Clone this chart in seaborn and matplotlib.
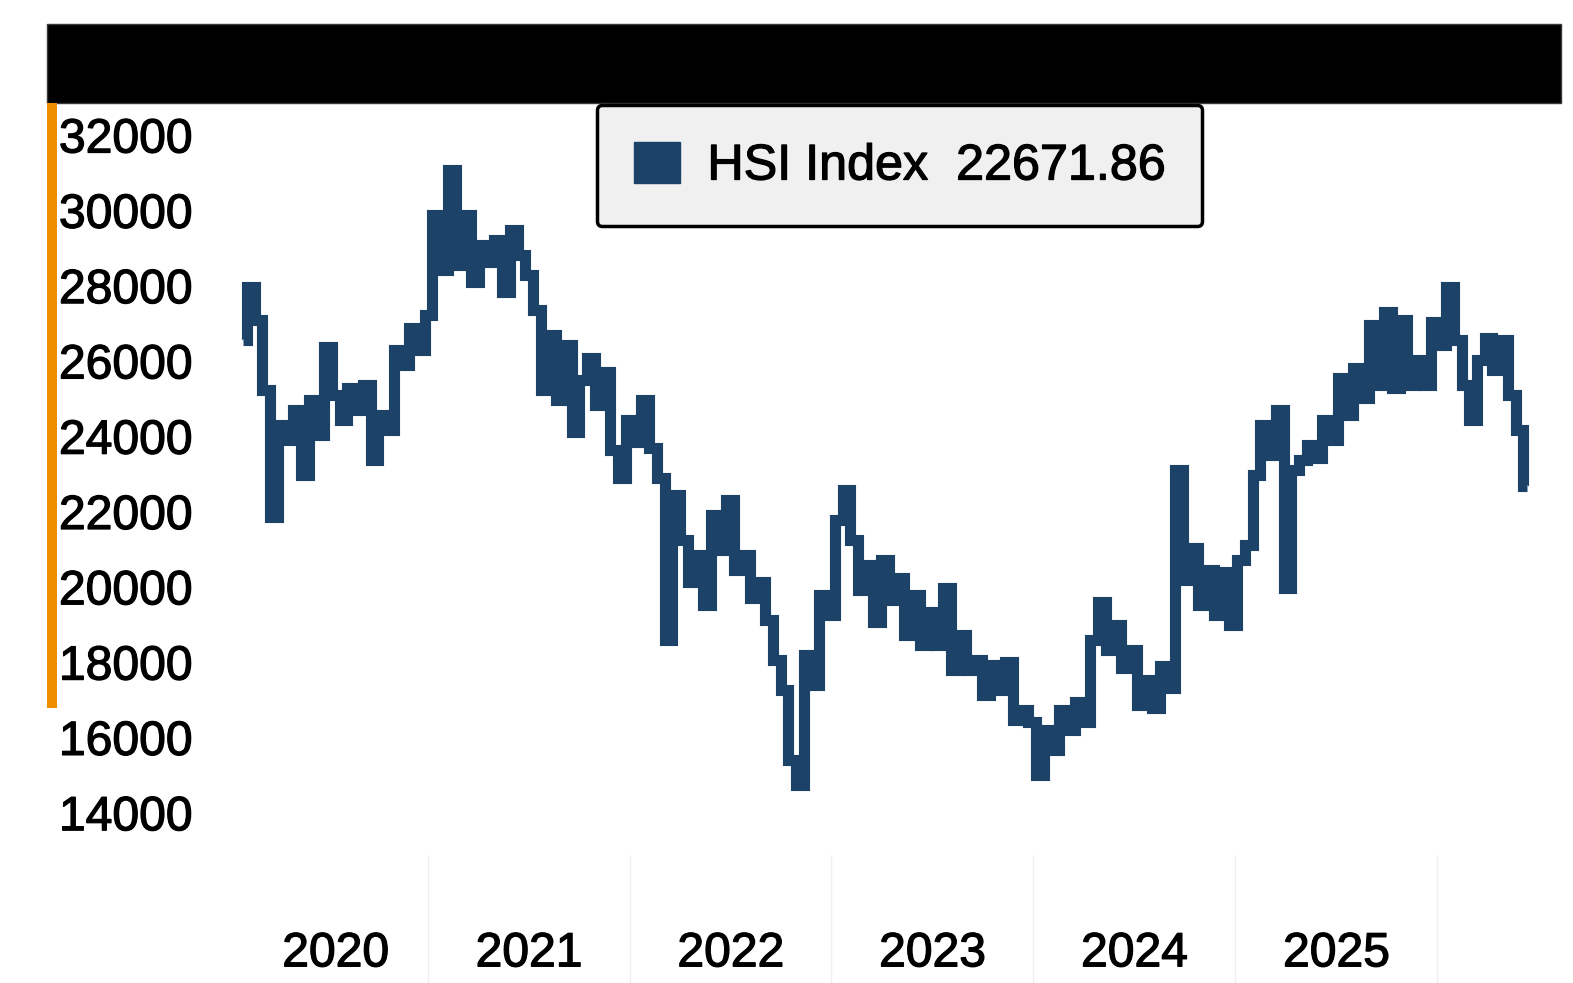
import pandas as pd
import matplotlib.pyplot as plt
import matplotlib.patheffects as pe
import seaborn as sns
from matplotlib.patches import Patch, Rectangle

# HSI closes, one reading every two weeks
start_date = '2020-02-01'
hsi_values = [
    26555, 27963, 27086, 25227, 21854, 24298, 23899, 24696, 22970, 24962,
    24032, 26369, 25094, 24430, 25280, 24696, 25360, 23368, 24563, 24165,
    26290, 25891, 26874, 26290, 27219, 29875, 28414, 31070, 28547, 29875,
    28096, 29078, 28627, 29211, 27830, 29477, 28813, 28282, 27352, 25227,
    26688, 24962, 26422, 24112, 25493, 26077, 24829, 25705, 23634, 22890,
    24430, 23846, 24962, 23687, 22890, 18587, 22438, 21243, 20128, 20845,
    19517, 21907, 20978, 22306, 20446, 20845, 19703, 20128, 19118, 18056,
    17259, 15400, 14736, 18189, 17392, 19782, 19251, 21774, 22571, 21243,
    19915, 20579, 19065, 20712, 19650, 20234, 18720, 19782, 18454, 19331,
    18454, 19968, 17790, 18720, 17790, 18056, 17126, 17923, 17259, 18003,
    16462, 16728, 16409, 15002, 16197, 15666, 16728, 16197, 16940, 16409,
    18587, 19596, 18322, 18986, 17844, 18322, 16861, 17525, 16781, 17897,
    17312, 23102, 20181, 21031, 19517, 20446, 19251, 20393, 18986, 20712,
    21110, 22970, 24298, 23501, 24696, 19968, 23102, 23368, 23766, 23421,
    24430, 23899, 25546, 24563, 25812, 25015, 26954, 25360, 27299, 25280,
    27086, 25360, 26024, 25360, 27033, 26422, 27963, 26555, 25360, 24430,
    26024, 26608, 25758, 26555, 25094, 24165, 22671.86,
]
year_labels = ['2020', '2021', '2022', '2023', '2024', '2025']
grid_years = [2021, 2022, 2023, 2024, 2025, 2026]
y_ticks = [14000, 16000, 18000, 20000, 22000, 24000, 26000, 28000, 30000, 32000]

line_color = '#1c4268'
bar_orange = '#ef8f00'

dates = pd.date_range(start_date, periods=len(hsi_values), freq='14D')
df = pd.DataFrame({'date': dates, 'close': hsi_values})

sns.set_style('white')
plt.rcParams['font.family'] = ['Liberation Sans', 'DejaVu Sans']
heavy = [pe.withStroke(linewidth=0.9, foreground='black')]

W, H = 1573, 983
fig = plt.figure(figsize=(W / 100, H / 100), dpi=100)
ax = fig.add_axes([47 / W, 0, (1561 - 47) / W, (H - 103) / H])

sns.lineplot(data=df, x='date', y='close', ax=ax, color=line_color,
             linewidth=8, legend=False, drawstyle='steps-mid')
ax.lines[0].set_solid_joinstyle('miter')
ax.lines[0].set_solid_capstyle('butt')

ref = pd.Timestamp('2021-01-01')
ax.set_xlim(ref - pd.Timedelta(days=689.5), ref + pd.Timedelta(days=2050))
ax.set_ylim(9477, 32850)

# faint year separators at the bottom
ax.vlines([pd.Timestamp(f'{y}-01-01') for y in grid_years], 9477, 12877,
          color='#f0f0f0', lw=1, zorder=0)

ax.set_yticks(y_ticks)
ax.set_yticklabels([str(v) for v in y_ticks])
ax.tick_params(axis='y', length=0, pad=-8.6, labelsize=34.6, labelcolor='black')
for lab in ax.get_yticklabels():
    lab.set_ha('left')
    lab.set_path_effects(heavy)

# year labels sit in the middle of the data that falls in each year
label_pos = []
for y in year_labels:
    lo = max(dates[0], pd.Timestamp(f'{y}-01-01'))
    hi = pd.Timestamp(f'{int(y) + 1}-01-01')
    label_pos.append(lo + (hi - lo) / 2)
ax.set_xticks(label_pos)
ax.set_xticklabels(year_labels)
ax.tick_params(axis='x', length=0, pad=-21, labelsize=34.6, labelcolor='black')
for lab in ax.get_xticklabels():
    lab.set_va('center')
    lab.set_path_effects(heavy)

ax.set_xlabel('')
ax.set_ylabel('')
for s in ax.spines.values():
    s.set_visible(False)

# black header bar and orange accent
fig.add_artist(Rectangle((47 / W, 1 - 103 / H), 1514 / W, 79 / H,
                         transform=fig.transFigure, facecolor='black',
                         edgecolor='#3a3a3a', lw=1))
fig.add_artist(Rectangle((47 / W, 1 - 708 / H), 10 / W, 605 / H,
                         transform=fig.transFigure, facecolor=bar_orange,
                         edgecolor='none'))

leg = fig.legend(handles=[Patch(facecolor=line_color, edgecolor=line_color)],
                 labels=[f'HSI Index  {hsi_values[-1]:.2f}'],
                 loc='upper left', bbox_to_anchor=(597 / W, 1 - 105 / H),
                 bbox_transform=fig.transFigure, frameon=True,
                 facecolor='#f0f0f0', edgecolor='black', framealpha=1,
                 fontsize=36.2, labelcolor='black', handlelength=0.915,
                 handleheight=0.875, handletextpad=0.55, borderpad=0.73,
                 borderaxespad=0)
leg.get_frame().set_linewidth(2.5)
leg.get_frame().set_boxstyle('round,pad=0,rounding_size=0.1')
for t in leg.get_texts():
    t.set_path_effects(heavy)

fig.savefig('out.png', dpi=100)
